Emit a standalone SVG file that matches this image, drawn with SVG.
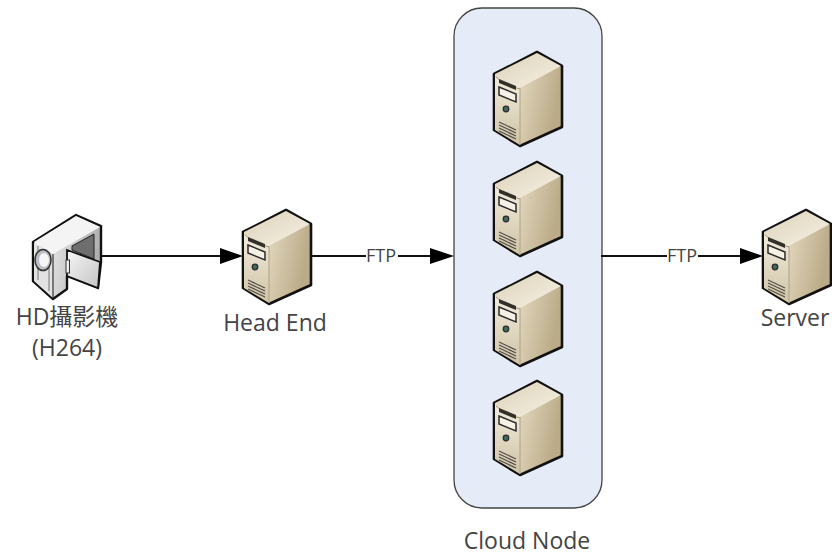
<svg xmlns="http://www.w3.org/2000/svg" width="832" height="556" viewBox="0 0 832 556">
<style>
text{font-family:"Open Sans","Noto Sans","Noto Sans CJK TC",sans-serif;fill:#444;text-anchor:middle}
.l{font-size:23px}
.f{font-size:18px}
.c{stroke:#111;stroke-width:2;fill:none}
</style>
<defs>
<linearGradient id="sf" x1="0" y1="0" x2="1" y2="0.25"><stop offset="0" stop-color="#f3ecdd"/><stop offset="0.45" stop-color="#dfd4ba"/><stop offset="1" stop-color="#bbab88"/></linearGradient>
<linearGradient id="st" x1="0" y1="0" x2="1" y2="1"><stop offset="0" stop-color="#dcd1b8"/><stop offset="1" stop-color="#f7f2e6"/></linearGradient>
<linearGradient id="sl" x1="0" y1="0" x2="0" y2="1"><stop offset="0" stop-color="#f2ecdd"/><stop offset="1" stop-color="#cfc3a5"/></linearGradient>
<linearGradient id="cb" x1="0" y1="0" x2="1" y2="0.2"><stop offset="0" stop-color="#fafafa"/><stop offset="1" stop-color="#b0b0b0"/></linearGradient>
<linearGradient id="cd" x1="0" y1="0" x2="1" y2="1"><stop offset="0" stop-color="#f6f6f6"/><stop offset="1" stop-color="#c4c4c4"/></linearGradient>
<g id="srv">
<path d="M43 0L68 14V75L26 94L0 78V22Z" fill="url(#sf)" stroke="#111" stroke-width="2.600" stroke-linejoin="round"/>
<path d="M1 22L43 1L67 14L26 36Q10 34 1 24Z" fill="url(#st)"/>
<path d="M1 24Q10 34 26 36V93L1 78Z" fill="url(#sl)"/>
<path d="M2 25Q10 33 26 37" stroke="#a89878" stroke-width="1" fill="none"/>
<path d="M26 36V93" stroke="#b0a282" stroke-width="1"/>
<path d="M5 27L22 34V38L5 31Z" fill="#33302a"/>
<path d="M5 35L22 42V50L5 43Z" fill="#f6f1e5" stroke="#2a2a2a" stroke-width="1.500"/>
<circle cx="12" cy="57" r="2.800" fill="#3d6b5c" stroke="#2a2a2a" stroke-width="1.200"/>
<path d="M5 70L22 78M5 73L22 81M5 76L22 84M5 79L22 87" stroke="#55504a" stroke-width="1.200"/>
</g>
</defs>
<g id="cloud-node">
<rect x="454" y="8" width="148" height="500" rx="28" ry="28" fill="#e6ecf7" stroke="#444" stroke-width="1.300"/>
<text class="l" x="527" y="549">Cloud Node</text>
</g>
<g id="connectors">
<path class="c" d="M100 256H222"/><path d="M220 248L243 256L220 264Z"/>
<path class="c" d="M310 256H366M398 256H432"/><path d="M430 248L454 256L430 264Z"/>
<text class="f" x="381" y="262">FTP</text>
<path class="c" d="M601 256H667M698 256H742"/><path d="M740 248L763 256L740 264Z"/>
<text class="f" x="682" y="262">FTP</text>
</g>
<g id="camera">
<path d="M33 242L76 215L101 226V262L98 288L67 276V289L53 299L33 281Z" fill="url(#cb)" stroke="#111" stroke-width="2.400" stroke-linejoin="round"/>
<path d="M34 242L76 216L100 227L53 254Z" fill="#f4f4f4"/>
<path d="M34 243L53 254V298L34 281Z" fill="#e2e2e2"/>
<path d="M53 254V298" stroke="#333" stroke-width="1.200"/>
<path d="M38 246V280M49 252V291" stroke="#777" stroke-width="1"/>
<path d="M72 246L94 234V259L72 250Z" fill="#6e6e6e" stroke="#222" stroke-width="1"/>
<path d="M67 250L100 262L98 288L67 276Z" fill="url(#cd)" stroke="#111" stroke-width="1.800"/>
<rect x="66" y="260" width="3.500" height="13" fill="#eee" stroke="#333" stroke-width="1"/>
<ellipse cx="43" cy="260" rx="8" ry="10.500" fill="#b9bcc2" stroke="#333" stroke-width="1.500"/>
<ellipse cx="44" cy="260" rx="5" ry="7" fill="#f5f6f8"/>
<text class="l" x="67" y="325">HD攝影機</text>
<text class="l" x="67" y="356">(H264)</text>
</g>
<g id="head-end">
<use href="#srv" x="243" y="210"/>
<text class="l" x="275" y="331">Head End</text>
</g>
<g id="cloud-server-1"><use href="#srv" x="494" y="52"/></g>
<g id="cloud-server-2"><use href="#srv" x="494" y="162"/></g>
<g id="cloud-server-3"><use href="#srv" x="494" y="272"/></g>
<g id="cloud-server-4"><use href="#srv" x="494" y="381"/></g>
<g id="server">
<use href="#srv" x="763" y="210"/>
<text class="l" x="795" y="326">Server</text>
</g>
</svg>
